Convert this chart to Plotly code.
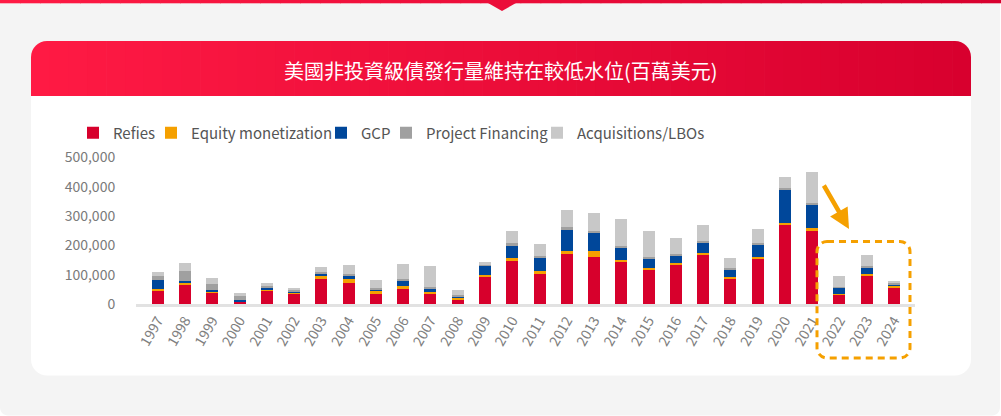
import plotly.graph_objects as go

W, H = 1001, 416

# ---------------- data ----------------
years = [str(y) for y in range(1997, 2025)]
refies = [49000, 67000, 42000, 11000, 49000, 38500, 90000, 73000, 37500, 51000,
          37500, 17000, 95500, 147000, 102000, 170500, 160500, 143000, 116000, 137500,
          167000, 90000, 158000, 274000, 249000, 35000, 99000, 58000]
equity = [3000, 3500, 1000, 500, 500, 3500, 6500, 12000, 5500, 11500,
          4500, 3500, 3500, 10000, 10500, 10500, 20500, 7000, 7000, 3500,
          7000, 3000, 3000, 3500, 10500, 500, 3000, 3500]
gcp = [30000, 8000, 6000, 1000, 10000, 3000, 10000, 15000, 9000, 20500,
       13500, 8000, 33000, 41000, 48500, 71500, 61500, 41000, 30500, 27000,
       37500, 26500, 44000, 115000, 82000, 22000, 24000, 7500]
project_fin = [15000, 34000, 20000, 15000, 3000, 3000, 2500, 2000, 3500, 2500,
               2500, 3500, 2000, 10000, 3000, 10000, 7000, 7000, 7000, 2500,
               3500, 2500, 2000, 2500, 3500, 1000, 3500, 2500]
acq_lbo = [13000, 27500, 20000, 10000, 9000, 7000, 17000, 31000, 26500, 51000,
           71500, 16000, 11000, 41000, 41000, 58000, 61500, 92000, 88500, 54500,
           54500, 35000, 49000, 38000, 106000, 37000, 37500, 7000]

series_names = ["Refies", "Equity monetization", "GCP", "Project Financing", "Acquisitions/LBOs"]
series_values = [refies, equity, gcp, project_fin, acq_lbo]
series_colors = ["#D7002C", "#F5A000", "#00479A", "#A0A0A0", "#C8C8C8"]

title_text = "美國非投資級債發行量維持在較低水位(百萬美元)"

FONT = "Noto Sans CJK TC, Noto Sans, sans-serif"


def X(px):
    return px / W


def Y(py):
    return 1 - py / H


def P(x, y):
    return f"{X(x):.5f},{Y(y):.5f}"


K = 0.5523


def rounded_rect(x0, y0, x1, y1, rtl=0, rtr=0, rbr=0, rbl=0):
    s = f"M{P(x0 + rtl, y0)} L{P(x1 - rtr, y0)} "
    if rtr:
        s += f"C{P(x1 - rtr + rtr * K, y0)} {P(x1, y0 + rtr - rtr * K)} {P(x1, y0 + rtr)} "
    s += f"L{P(x1, y1 - rbr)} "
    if rbr:
        s += f"C{P(x1, y1 - rbr + rbr * K)} {P(x1 - rbr + rbr * K, y1)} {P(x1 - rbr, y1)} "
    s += f"L{P(x0 + rbl, y1)} "
    if rbl:
        s += f"C{P(x0 + rbl - rbl * K, y1)} {P(x0, y1 - rbl + rbl * K)} {P(x0, y1 - rbl)} "
    s += f"L{P(x0, y0 + rtl)} "
    if rtl:
        s += f"C{P(x0, y0 + rtl - rtl * K)} {P(x0 + rtl - rtl * K, y0)} {P(x0 + rtl, y0)} "
    return s + "Z"


def lerp_col(t):
    c0 = (255, 26, 68)
    c1 = (216, 0, 46)
    c = [round(a + (b - a) * t) for a, b in zip(c0, c1)]
    return f"rgb({c[0]},{c[1]},{c[2]})"


shapes = []
# page background (grey panel with rounded bottom corners)
shapes.append(dict(type="path", xref="paper", yref="paper", layer="below",
                   path=rounded_rect(0, 0, 1000, 415.5, 0, 0, 8, 8),
                   fillcolor="#F4F4F4", line=dict(width=0)))
# card body
shapes.append(dict(type="path", xref="paper", yref="paper", layer="below",
                   path=rounded_rect(31, 41, 971, 375.5, 16, 16, 16, 16),
                   fillcolor="#FFFFFF", line=dict(width=0)))
# header gradient strips
N = 50
hx0, hx1, hy0, hy1, R = 31, 971, 41, 96, 16
sw = (hx1 - hx0) / N
for i in range(N):
    a = hx0 + i * sw
    b = a + sw + (0.7 if i < N - 1 else 0)
    path = rounded_rect(a, hy0, b, hy1, R if i == 0 else 0, R if i == N - 1 else 0, 0, 0)
    shapes.append(dict(type="path", xref="paper", yref="paper", layer="below",
                       path=path, fillcolor=lerp_col((i + 0.5) / N), line=dict(width=0)))
# top red line
for i in range(N):
    a = i * W / N
    b = a + W / N + 0.7
    shapes.append(dict(type="rect", xref="paper", yref="paper", layer="below",
                       x0=X(a), x1=X(min(b, W)), y0=Y(3.3), y1=Y(0),
                       fillcolor=lerp_col((i + 0.5) / N), line=dict(width=0)))
# small triangle under the top line
shapes.append(dict(type="path", xref="paper", yref="paper", layer="below",
                   path=f"M{P(488, 3)} L{P(516, 3)} L{P(502, 11)} Z",
                   fillcolor="#EB0D39", line=dict(width=0)))
# dashed highlight box
shapes.append(dict(type="path", xref="paper", yref="paper", layer="above",
                   path=rounded_rect(817, 241.5, 910, 358, 10, 10, 10, 10),
                   fillcolor="rgba(0,0,0,0)",
                   line=dict(color="#F5A000", width=3, dash="7px,5px")))

fig = go.Figure()
legend_sq = [93, 171, 341, 406, 557]
legends = {}
for i, (name, vals, col) in enumerate(zip(series_names, series_values, series_colors)):
    key = "legend" if i == 0 else f"legend{i + 1}"
    fig.add_trace(go.Bar(x=years, y=vals, name=name, legend=key, showlegend=True,
                         marker=dict(color=col, line=dict(width=0)),
                         hovertemplate="%{x}: %{y:,}<extra>" + name + "</extra>"))
    legends[key] = dict(x=X(legend_sq[i] - 20), y=Y(133), xanchor="left", yanchor="middle",
                        orientation="h", bgcolor="rgba(0,0,0,0)", borderwidth=0,
                        font=dict(family=FONT, size=15, color="#555555"))

fig.update_layout(
    width=W, height=H,
    margin=dict(l=0, r=0, t=0, b=0),
    showlegend=True,
    paper_bgcolor="#FFFFFF", plot_bgcolor="rgba(0,0,0,0)",
    barmode="stack", bargap=0.56,
    font=dict(family=FONT, color="#7F7F7F"),
    shapes=shapes,
    xaxis=dict(domain=[X(136), X(915)], range=[-0.8, 27.77], type="category",
               tickangle=-60, tickfont=dict(family=FONT, size=14, color="#808080"),
               showgrid=False, zeroline=False, showline=True, linecolor="#E2E2E2",
               linewidth=3, ticks="", automargin=False, fixedrange=True),
    yaxis=dict(domain=[Y(304), Y(157.5)], range=[0, 500000], tick0=0, dtick=100000,
               tickformat=",", tickfont=dict(family=FONT, size=14, color="#7A7A7A"),
               showgrid=False, zeroline=False, showline=False, ticks="outside",
               ticklen=17, tickcolor="rgba(0,0,0,0)", automargin=False, fixedrange=True),
    annotations=[
        dict(text=title_text, xref="paper", yref="paper", x=X(501), y=Y(71),
             xanchor="center", yanchor="middle", showarrow=False,
             font=dict(family=FONT, size=20, color="#FFFFFF")),
        dict(text="", xref="paper", yref="paper", x=X(849), y=Y(229),
             axref="pixel", ayref="pixel", ax=-26, ay=-45, showarrow=True,
             arrowhead=2, arrowsize=0.9, arrowwidth=4.5, arrowcolor="#F5A000"),
    ],
    **legends,
)

fig.write_html("out.html", config={"displayModeBar": False},
               post_script="document.body.style.margin='0px';document.body.style.overflow='hidden';")
